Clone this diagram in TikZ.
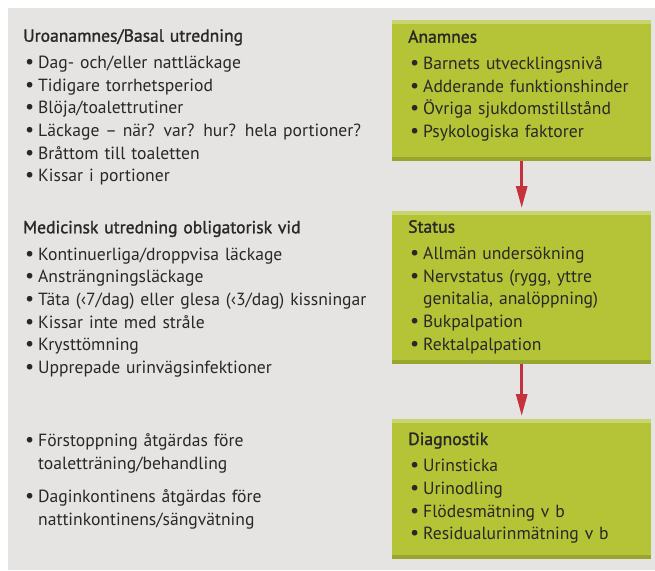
\documentclass[tikz,border=0pt]{standalone}
\usepackage{fontspec}
\setmainfont{PT Sans}
\newfontfamily\titelfont{PT Sans}[FakeBold=1.4]
\usetikzlibrary{arrows.meta,positioning}
\definecolor{bggray}{RGB}{229,228,226}
\definecolor{boxgreen}{RGB}{181,195,54}
\definecolor{stripelight}{RGB}{200,212,112}
\definecolor{stripedark}{RGB}{152,165,46}
\definecolor{pilrot}{RGB}{196,50,62}
\definecolor{textgray}{RGB}{40,40,40}
\newcommand{\punkt}[1]{\hangindent=15pt\hangafter=1\noindent\makebox[15pt][l]{\hspace{2pt}\scalebox{1.15}{\textbullet}}#1\par}
\newcommand{\rubrik}[1]{{\titelfont #1}\par\vspace{4pt}}
\tikzset{
  liste/.style={anchor=base west, inner sep=0pt, align=left, text=textgray,
    font=\fontsize{17.6}{22.7}\selectfont},
  gbox/.style={fill=boxgreen, minimum width=259pt, inner sep=0pt, anchor=north west,
    path picture={
      \fill[stripelight] (path picture bounding box.north west) rectangle ([yshift=-4pt]path picture bounding box.north east);
      \fill[stripedark] ([yshift=4pt]path picture bounding box.south west) rectangle (path picture bounding box.south east);
    }},
  pil/.style={-{Triangle[width=11pt,length=22pt]}, line width=3pt, draw=pilrot, shorten >=3pt},
}

\begin{document}
\begin{tikzpicture}[x=1pt, y=-1pt]
  \useasboundingbox (0,0) rectangle (655,570);
  \fill[bggray] (8,8) rectangle (655,570);

  % gruene Kaesten rechts
  \node[gbox, minimum height=141pt] (anam) at (392,20) {};
  \node[gbox, minimum height=153pt] (stat) at (392,211) {};
  \node[gbox, minimum height=140pt] (diag) at (392,419) {};

  \draw[pil] (anam.south) -- (stat.north);
  \draw[pil] (stat.south) -- (diag.north);

  \node[liste, text width=240pt] (anamtxt) at ([xshift=16pt, yshift=-22.7pt]anam.north west) {%
    \rubrik{Anamnes}
    \punkt{Barnets utvecklingsnivå}
    \punkt{Adderande funktionshinder}
    \punkt{Övriga sjukdomstillstånd}
    \punkt{Psykologiska faktorer}};
  \node[liste, text width=240pt] (stattxt) at ([xshift=16pt, yshift=-21.7pt]stat.north west) {%
    \rubrik{Status}
    \punkt{Allmän undersökning}
    \punkt{Nervstatus (rygg, yttre\newline genitalia, analöppning)}
    \punkt{Bukpalpation}
    \punkt{Rektalpalpation}};
  \node[liste, text width=240pt] (diagtxt) at ([xshift=16pt, yshift=-26pt]diag.north west) {%
    \rubrik{Diagnostik}
    \punkt{Urinsticka}
    \punkt{Urinodling}
    \punkt{Flödesmätning v b}
    \punkt{Residualurinmätning v b}};

  % Text links
  \node[liste, text width=380pt] (uro) at (23,41.7) {%
    \rubrik{Uroanamnes/Basal utredning}
    \punkt{Dag- och/eller nattläckage}
    \punkt{Tidigare torrhetsperiod}
    \punkt{Blöja/toalettrutiner}
    \punkt{Läckage – när? var? hur? hela portioner?}
    \punkt{Bråttom till toaletten}
    \punkt{Kissar i portioner}};
  \node[liste, text width=380pt] (medic) at (23,233.3) {%
    \rubrik{Medicinsk utredning obligatorisk vid}
    \punkt{Kontinuerliga/droppvisa läckage}
    \punkt{Ansträngningsläckage}
    \punkt{Täta (‹7/dag) eller glesa (‹3/dag) kissningar}
    \punkt{Kissar inte med stråle}
    \punkt{Krysttömning}
    \punkt{Upprepade urinvägsinfektioner}};
  \node[liste, text width=380pt] (atgard) at (23,446.7) {%
    \punkt{Förstoppning åtgärdas före\newline toaletträning/behandling}
    \vspace{10.5pt}
    \punkt{Daginkontinens åtgärdas före\newline nattinkontinens/sängvätning}};
\end{tikzpicture}
\end{document}
